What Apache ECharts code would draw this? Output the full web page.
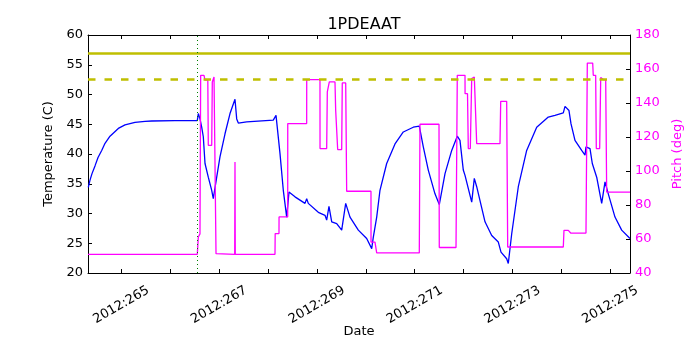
<!DOCTYPE html>
<html>
<head>
<meta charset="utf-8">
<script src="https://cdn.jsdelivr.net/npm/echarts@6/dist/echarts.min.js"></script>
<style>
    html, body { margin: 0; padding: 0; background: #fff; }
    #main { width: 700px; height: 350px; }
</style>
</head>
<body>
<div id="main"></div>
<script type="text/javascript">
    // x is day of year 2012 (fractional)
    var xMin = 264.319, xMax = 275.403;
    var dayTicks = [265, 266, 267, 268, 269, 270, 271, 272, 273, 274, 275];
    var dayLabels = [265, 267, 269, 271, 273, 275];
    var eventDay = 266.554;
    var planLimits = [57, 52.5];

    // 1PDEAAT temperature (C)
    var tempDays = [264.325, 264.360, 264.401, 264.462, 264.524, 264.599, 264.667, 264.769, 264.939, 265.076,
        265.280, 265.485, 265.622, 266.098, 266.554, 266.575,
        266.609, 266.644, 266.677, 266.712, 266.779, 266.849, 266.881, 266.951, 267.018, 267.121,
        267.223, 267.325, 267.360, 267.393, 267.564, 268.108, 268.164, 268.198, 268.245, 268.313,
        268.382, 268.429, 268.552, 268.757, 268.791, 268.824, 269.029, 269.166, 269.200, 269.247,
        269.303, 269.405, 269.507, 269.589, 269.677, 269.847, 270.018, 270.121, 270.153, 270.223,
        270.290, 270.427, 270.597, 270.767, 270.971, 271.094, 271.176, 271.278, 271.415, 271.503,
        271.620, 271.757, 271.871, 271.926, 271.994, 272.029, 272.166, 272.219, 272.268, 272.438,
        272.575, 272.710, 272.744, 272.765, 272.881, 272.914, 272.984, 273.119, 273.290, 273.495,
        273.732, 273.869, 274.039, 274.074, 274.155, 274.196, 274.278, 274.415, 274.483, 274.503,
        274.585, 274.632, 274.722, 274.824, 274.892, 274.959, 275.096, 275.233, 275.403];
    var tempValues = [34.4, 35.6, 36.7, 38.0, 39.4, 40.6, 41.8, 43.0, 44.3, 44.9,
        45.3, 45.5, 45.55, 45.6, 45.6, 46.8,
        45.9, 44.5, 42.9, 38.4, 36.1, 33.9, 32.5, 36.1, 39.5, 43.4,
        46.8, 49.2, 45.9, 45.2, 45.4, 45.7, 46.5, 46.2, 40.1, 33.9,
        29.4, 33.6, 32.8, 31.7, 32.5, 31.7, 30.2, 29.7, 28.9, 31.2,
        28.6, 28.3, 27.2, 31.7, 29.4, 27.2, 25.8, 24.1, 26.0, 29.4,
        33.9, 38.4, 41.7, 43.7, 44.5, 44.7, 41.2, 37.3, 33.3, 31.5,
        36.7, 40.6, 43.0, 42.3, 37.3, 36.4, 31.9, 35.9, 34.5, 28.6,
        26.3, 25.2, 24.9, 23.5, 22.4, 21.6, 26.6, 34.5, 40.6, 44.5,
        46.2, 46.5, 46.9, 48.0, 47.3, 45.1, 42.3, 40.6, 39.8, 41.2,
        40.9, 38.4, 36.1, 31.7, 35.3, 33.3, 29.4, 27.2, 25.8];

    // pitch (deg)
    var pitchDays = [264.319, 266.554, 266.575, 266.609, 266.623, 266.691, 266.712, 266.769, 266.779, 266.849,
        266.861, 266.896, 266.922, 266.937, 267.319, 267.325, 267.331, 268.143, 268.147, 268.225,
        268.226, 268.403, 268.404, 268.791, 268.792, 269.063, 269.064, 269.200, 269.213, 269.254,
        269.370, 269.384, 269.415, 269.425, 269.507, 269.519, 269.589, 269.609, 270.106, 270.107,
        270.188, 270.223, 271.094, 271.108, 271.497, 271.503, 271.845, 271.871, 272.029, 272.030,
        272.080, 272.096, 272.137, 272.166, 272.219, 272.233, 272.268, 272.744, 272.759, 272.881,
        272.902, 274.039, 274.053, 274.141, 274.190, 274.503, 274.530, 274.640, 274.652, 274.701,
        274.714, 274.783, 274.804, 274.857, 274.906, 274.926, 275.403];
    var pitchValues = [51, 51, 61.2, 63, 156.3, 156.3, 153.4, 153.4, 115.1, 115.1,
        152.4, 155.3, 155.3, 51.4, 51, 105.3, 51, 51, 63.2, 63.2,
        73, 73, 127.9, 127.9, 153.8, 153.8, 113.2, 113.2, 146.5, 152.4,
        152.4, 135.7, 135.7, 112.6, 112.6, 151.8, 151.8, 88.1, 88.1, 58.2,
        58.2, 51.8, 51.8, 127.5, 127.5, 55, 55, 156.3, 156.3, 145.5,
        145.5, 113.2, 113.2, 154.4, 155.3, 155.3, 116.1, 116.1, 141, 141,
        55.3, 55.3, 65.1, 65.1, 63.5, 63.5, 163.5, 163.5, 156.3, 156.3,
        113.2, 113.2, 155, 153.8, 153.8, 87.6, 87.6];

    var zip = function (xs, ys) {
        return xs.map(function (x, i) { return [x, ys[i]]; });
    };
    var font = 'DejaVu Sans';

    var myChart = echarts.init(document.getElementById('main'), null, {renderer: 'canvas'});
    myChart.setOption({
        animation: false,
        title: {
            text: '1PDEAAT',
            left: 359,
            top: 12,
            textAlign: 'center',
            textStyle: {fontFamily: font, fontSize: 16, fontWeight: 'normal', color: '#000'}
        },
        grid: {left: 88, right: 70, top: 35, bottom: 77, outerBoundsMode: 'none', containLabel: false},
        xAxis: [
            {
                type: 'value',
                min: xMin,
                max: xMax,
                name: 'Date',
                nameLocation: 'middle',
                nameGap: 52,
                nameMoveOverlap: false,
                nameTextStyle: {fontFamily: font, fontSize: 13, color: '#000'},
                axisLine: {lineStyle: {color: '#000', width: 1}},
                axisTick: {inside: true, length: 4, customValues: dayTicks, lineStyle: {color: '#000'}},
                axisLabel: {
                    customValues: dayLabels,
                    formatter: function (v) { return '2012:' + Math.round(v); },
                    rotate: 30,
                    align: 'center',
                    verticalAlign: 'middle',
                    margin: 32,
                    fontFamily: font,
                    fontSize: 13,
                    color: '#000'
                },
                splitLine: {show: false}
            },
            {
                type: 'value',
                position: 'top',
                min: xMin,
                max: xMax,
                axisLine: {lineStyle: {color: '#000', width: 1}},
                axisTick: {inside: true, length: 4, customValues: dayTicks, lineStyle: {color: '#000'}},
                axisLabel: {show: false},
                splitLine: {show: false}
            }
        ],
        yAxis: [
            {
                type: 'value',
                min: 20,
                max: 60,
                interval: 5,
                name: 'Temperature (C)',
                nameLocation: 'middle',
                nameGap: 31,
                nameRotate: 90,
                nameTextStyle: {fontFamily: font, fontSize: 13, color: '#000'},
                axisLine: {show: true, lineStyle: {color: '#000', width: 1}},
                axisTick: {show: true, inside: true, length: 4, lineStyle: {color: '#000'}},
                axisLabel: {margin: 5, fontFamily: font, fontSize: 13, color: '#000'},
                splitLine: {show: false}
            },
            {
                type: 'value',
                position: 'right',
                min: 40,
                max: 180,
                interval: 20,
                name: 'Pitch (deg)',
                nameLocation: 'middle',
                nameGap: 36,
                nameRotate: 90,
                nameTextStyle: {fontFamily: font, fontSize: 13, color: '#ff00ff'},
                axisLine: {show: true, lineStyle: {color: '#000', width: 1}},
                axisTick: {show: true, inside: true, length: 4, lineStyle: {color: '#000'}},
                axisLabel: {margin: 5, fontFamily: font, fontSize: 13, color: '#ff00ff'},
                splitLine: {show: false}
            }
        ],
        series: [
            {
                name: 'temp',
                type: 'line',
                xAxisIndex: 0,
                yAxisIndex: 0,
                data: zip(tempDays, tempValues),
                showSymbol: false,
                lineStyle: {color: '#0000ff', width: 1.3},
                z: 3,
                markLine: {
                    silent: true,
                    symbol: 'none',
                    label: {show: false},
                    data: [
                        {yAxis: planLimits[0], lineStyle: {color: '#bfbf00', width: 2.5, type: 'solid'}},
                        {yAxis: planLimits[1], lineStyle: {color: '#bfbf00', width: 2.5, type: [7.5, 9]}},
                        {xAxis: eventDay, lineStyle: {color: '#008000', width: 1, type: [1, 3]}}
                    ]
                }
            },
            {
                name: 'pitch',
                type: 'line',
                xAxisIndex: 0,
                yAxisIndex: 1,
                data: zip(pitchDays, pitchValues),
                showSymbol: false,
                lineStyle: {color: '#ff00ff', width: 1.3},
                z: 4
            }
        ]
    });
</script>
</body>
</html>
